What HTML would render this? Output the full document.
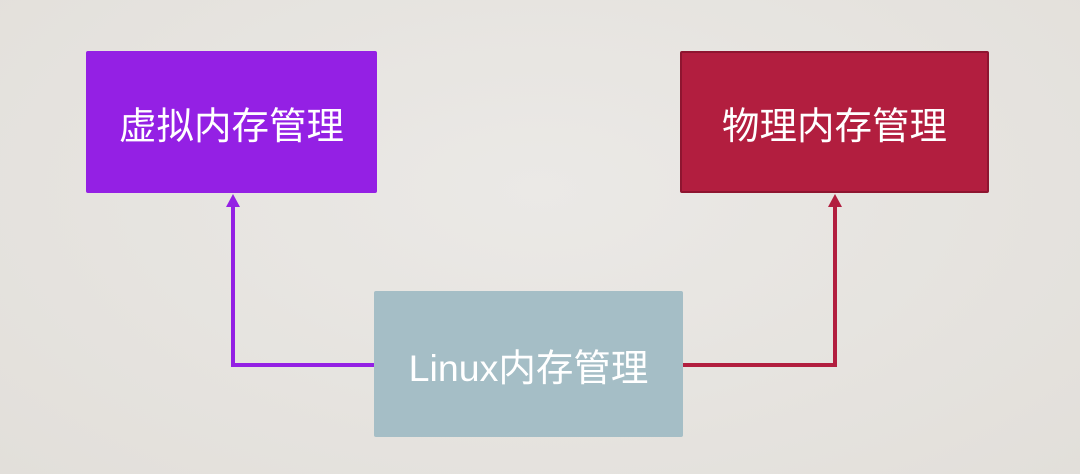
<!DOCTYPE html>
<html><head><meta charset="utf-8"><style>
html,body{margin:0;padding:0}
body{width:1080px;height:474px;overflow:hidden;background:radial-gradient(ellipse at 50% 40%,#ebe9e6,#e2dfda);position:relative;font-family:"Liberation Sans","Noto Sans CJK SC",sans-serif}
.b{position:absolute;display:flex;align-items:center;justify-content:center;color:#fff;font-size:37.5px;box-sizing:border-box;border-radius:2px}
</style></head><body>
<div class="b" style="left:86px;top:51px;width:291px;height:142px;background:#9420e4">虚拟内存管理</div>
<div class="b" style="left:680px;top:51px;width:309px;height:142px;background:#b21e3f;border:2px solid #8e1530">物理内存管理</div>
<div class="b" style="left:374px;top:291px;width:309px;height:146px;background:#a5bec6">Linux内存管理</div>
<svg width="1080" height="474" style="position:absolute;left:0;top:0">
<polyline points="374,365 233,365 233,204" fill="none" stroke="#9420e4" stroke-width="4"/>
<polygon points="226,207 240,207 233,194" fill="#9420e4"/>
<polyline points="683,365 835,365 835,204" fill="none" stroke="#b21e3f" stroke-width="4"/>
<polygon points="828,207 842,207 835,194" fill="#b21e3f"/>
</svg>
</body></html>
